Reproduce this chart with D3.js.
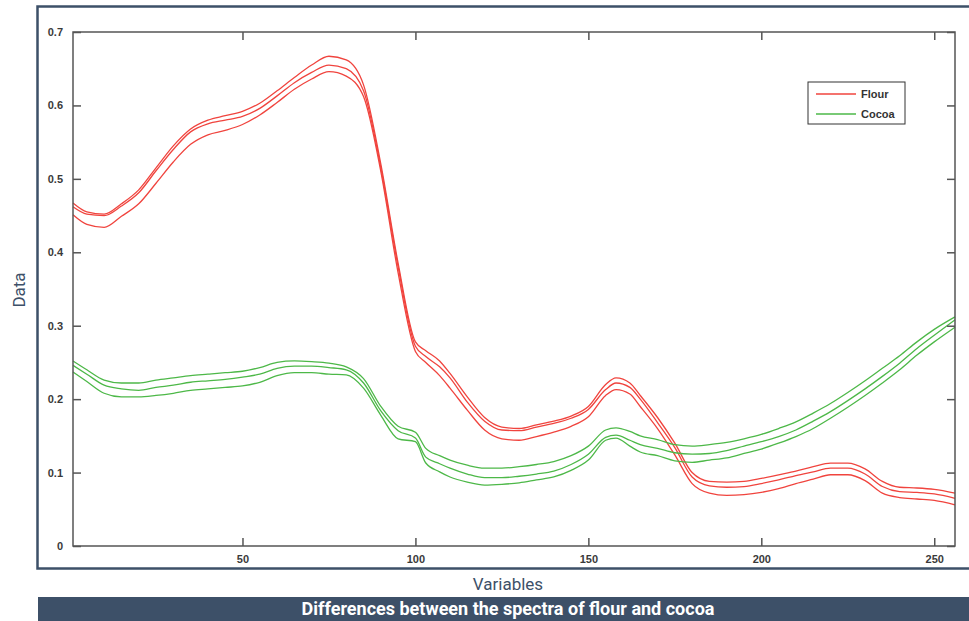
<!DOCTYPE html>
<html>
<head>
<meta charset="utf-8">
<script src="https://cdn.jsdelivr.net/npm/d3@7"></script>
<style>
  body { margin: 0; background: #fff; }
  svg { display: block; }
</style>
</head>
<body>
<div id="chart"></div>
<script>
const width = 969;
const height = 621;
const margin = { top: 32, right: 14, bottom: 75, left: 73 };
const graphWidth = width - margin.left - margin.right;
const graphHeight = height - margin.top - margin.bottom;

// sample positions along the spectrum (variable index)
const variables = [1, 5, 10, 15, 20, 25, 30, 35, 40, 45, 50, 55, 60, 65, 70, 75, 80, 85, 90, 95,
    100, 103, 107, 110, 115, 120, 125, 130, 135, 140, 145, 150, 155, 158, 162, 165, 170, 175, 180,
    185, 190, 195, 200, 205, 210, 215, 220, 225, 230, 235, 240, 245, 250, 256];

const flourHigh = [0.467, 0.455, 0.452, 0.466, 0.485, 0.515, 0.545, 0.568, 0.580, 0.586, 0.592, 0.603,
    0.620, 0.638, 0.655, 0.667, 0.662, 0.628, 0.520, 0.385, 0.278, 0.266, 0.252, 0.235, 0.203, 0.175,
    0.162, 0.160, 0.165, 0.170, 0.177, 0.190, 0.220, 0.229, 0.222, 0.205, 0.175, 0.140, 0.100, 0.088,
    0.087, 0.088, 0.092, 0.097, 0.102, 0.108, 0.113, 0.113, 0.105, 0.088, 0.080, 0.079, 0.077, 0.072];
const flourMid = [0.462, 0.452, 0.450, 0.463, 0.481, 0.511, 0.540, 0.564, 0.575, 0.580, 0.585, 0.596,
    0.613, 0.631, 0.645, 0.655, 0.650, 0.620, 0.515, 0.380, 0.272, 0.258, 0.244, 0.229, 0.196, 0.170,
    0.158, 0.157, 0.162, 0.167, 0.174, 0.186, 0.213, 0.222, 0.216, 0.200, 0.168, 0.134, 0.094, 0.082,
    0.080, 0.081, 0.085, 0.090, 0.096, 0.101, 0.106, 0.106, 0.098, 0.081, 0.074, 0.073, 0.071, 0.065];
const flourLow = [0.451, 0.438, 0.434, 0.449, 0.466, 0.494, 0.523, 0.547, 0.560, 0.566, 0.574, 0.587,
    0.604, 0.622, 0.636, 0.646, 0.640, 0.612, 0.510, 0.372, 0.265, 0.250, 0.232, 0.215, 0.185, 0.158,
    0.146, 0.144, 0.149, 0.155, 0.163, 0.176, 0.205, 0.213, 0.207, 0.190, 0.160, 0.124, 0.085, 0.072,
    0.069, 0.070, 0.073, 0.078, 0.085, 0.091, 0.097, 0.097, 0.089, 0.072, 0.066, 0.064, 0.062, 0.056];

const cocoaHigh = [0.252, 0.240, 0.226, 0.222, 0.222, 0.226, 0.229, 0.232, 0.234, 0.236, 0.238, 0.243,
    0.250, 0.252, 0.251, 0.249, 0.244, 0.228, 0.190, 0.163, 0.155, 0.133, 0.123, 0.117, 0.110, 0.106,
    0.106, 0.108, 0.111, 0.115, 0.123, 0.136, 0.158, 0.161, 0.156, 0.150, 0.145, 0.138, 0.136, 0.138,
    0.141, 0.146, 0.152, 0.160, 0.169, 0.181, 0.194, 0.209, 0.225, 0.242, 0.259, 0.278, 0.295, 0.312];
const cocoaMid = [0.246, 0.234, 0.219, 0.214, 0.212, 0.216, 0.219, 0.223, 0.225, 0.227, 0.230, 0.234,
    0.242, 0.245, 0.245, 0.243, 0.240, 0.222, 0.184, 0.157, 0.147, 0.121, 0.112, 0.106, 0.098, 0.093,
    0.093, 0.095, 0.098, 0.102, 0.111, 0.125, 0.148, 0.151, 0.144, 0.138, 0.133, 0.127, 0.125, 0.126,
    0.130, 0.136, 0.142, 0.149, 0.158, 0.170, 0.183, 0.198, 0.214, 0.231, 0.249, 0.269, 0.287, 0.308];
const cocoaLow = [0.237, 0.224, 0.208, 0.203, 0.203, 0.205, 0.208, 0.212, 0.214, 0.216, 0.218, 0.223,
    0.232, 0.236, 0.236, 0.234, 0.233, 0.215, 0.178, 0.146, 0.142, 0.113, 0.101, 0.094, 0.087, 0.083,
    0.084, 0.086, 0.090, 0.094, 0.103, 0.117, 0.144, 0.147, 0.136, 0.128, 0.123, 0.116, 0.114, 0.117,
    0.120, 0.126, 0.132, 0.140, 0.149, 0.160, 0.174, 0.189, 0.205, 0.222, 0.240, 0.260, 0.278, 0.298];

const xTicks = [50, 100, 150, 200, 250];
const yTicks = [0, 0.1, 0.2, 0.3, 0.4, 0.5, 0.6, 0.7];
const legendLabels = ['Flour', 'Cocoa'];

const red = '#f0443e';
const green = '#4db848';
const slate = '#3d5068';

const svg = d3.select('#chart')
    .append('svg')
    .attr('width', width)
    .attr('height', height);

// outer frame
svg.append('rect')
    .attr('x', 37.5)
    .attr('y', 6.5)
    .attr('width', 960)
    .attr('height', 562)
    .attr('fill', 'none')
    .attr('stroke', slate)
    .attr('stroke-width', 2.5);

const graph = svg.append('g')
    .attr('transform', `translate(${margin.left}, ${margin.top})`);

const x = d3.scaleLinear()
    .domain([1, 256])
    .range([0, graphWidth]);

const y = d3.scaleLinear()
    .domain([0, 0.7])
    .range([graphHeight, 0]);

const line = d3.line()
    .x((d, i) => x(variables[i]))
    .y(d => y(d))
    .curve(d3.curveMonotoneX);

const series = [
    { vals: flourHigh, color: red }, { vals: flourMid, color: red }, { vals: flourLow, color: red },
    { vals: cocoaHigh, color: green }, { vals: cocoaMid, color: green }, { vals: cocoaLow, color: green }
];

graph.selectAll('path.spec')
    .data(series)
    .enter()
    .append('path')
    .attr('class', 'spec')
    .attr('d', d => line(d.vals))
    .attr('fill', 'none')
    .attr('stroke', d => d.color)
    .attr('stroke-width', 1.3);

// axes, matlab style: ticks inward on all four sides
const tickStyle = g => {
    g.select('.domain').remove();
    g.selectAll('line').attr('stroke', '#555').attr('stroke-width', 1.5);
    g.selectAll('text')
        .style('font-family', 'Arial, "Liberation Sans", sans-serif')
        .style('font-size', '11px')
        .style('font-weight', 'bold')
        .attr('fill', '#3a3a3a');
};

graph.append('g')
    .attr('transform', `translate(0, ${graphHeight})`)
    .call(d3.axisBottom(x).tickValues(xTicks).tickSize(-8).tickPadding(9))
    .call(tickStyle);

graph.append('g')
    .call(d3.axisTop(x).tickValues(xTicks).tickSize(-8).tickFormat(''))
    .call(tickStyle);

graph.append('g')
    .call(d3.axisLeft(y).tickValues(yTicks).tickSize(-8).tickPadding(10)
        .tickFormat(d => d === 0 ? '0' : d3.format('.1f')(d)))
    .call(tickStyle);

graph.append('g')
    .attr('transform', `translate(${graphWidth}, 0)`)
    .call(d3.axisRight(y).tickValues(yTicks).tickSize(-8).tickFormat(''))
    .call(tickStyle);

// plot box
graph.append('rect')
    .attr('width', graphWidth)
    .attr('height', graphHeight)
    .attr('fill', 'none')
    .attr('stroke', '#555')
    .attr('stroke-width', 1.5);

// legend
const legend = graph.append('g')
    .attr('transform', `translate(${808 - margin.left}, ${82 - margin.top})`);

legend.append('rect')
    .attr('width', 97)
    .attr('height', 42)
    .attr('fill', '#fff')
    .attr('stroke', '#333')
    .attr('stroke-width', 1);

legendLabels.forEach((name, i) => {
    const ly = 12 + i * 20;
    legend.append('line')
        .attr('x1', 8).attr('x2', 48)
        .attr('y1', ly).attr('y2', ly)
        .attr('stroke', i === 0 ? red : green)
        .attr('stroke-width', 1.3);
    legend.append('text')
        .attr('x', 53)
        .attr('y', ly + 4)
        .style('font-family', 'Arial, "Liberation Sans", sans-serif')
        .style('font-size', '11px')
        .style('font-weight', 'bold')
        .attr('fill', '#333')
        .text(name);
});

// axis titles
svg.append('text')
    .attr('transform', 'translate(25, 290) rotate(-90)')
    .attr('text-anchor', 'middle')
    .style('font-family', 'Roboto, sans-serif')
    .style('font-size', '17px')
    .attr('fill', slate)
    .text('Data');

svg.append('text')
    .attr('x', 508)
    .attr('y', 590)
    .attr('text-anchor', 'middle')
    .style('font-family', 'Roboto, sans-serif')
    .style('font-size', '17px')
    .attr('fill', slate)
    .text('Variables');

// caption bar
svg.append('rect')
    .attr('x', 38)
    .attr('y', 597)
    .attr('width', width - 38)
    .attr('height', 24)
    .attr('fill', slate);

svg.append('text')
    .attr('x', 508)
    .attr('y', 615)
    .attr('text-anchor', 'middle')
    .style('font-family', 'Roboto, sans-serif')
    .style('font-size', '18px')
    .style('font-weight', 'bold')
    .attr('fill', '#fff')
    .text('Differences between the spectra of flour and cocoa');
</script>
</body>
</html>
